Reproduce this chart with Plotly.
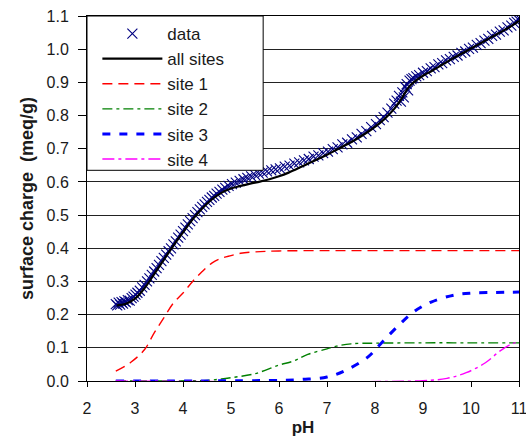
import plotly.graph_objects as go

# ---- data ----
data_ph = [2.60, 2.63, 2.66, 2.69, 2.72, 2.75, 2.78, 2.81, 2.85, 2.89, 2.93, 2.97,
           3.01, 3.05, 3.10, 3.15, 3.20, 3.25, 3.30, 3.35, 3.40, 3.45, 3.50, 3.55,
           3.60, 3.65, 3.70, 3.75, 3.80, 3.85, 3.90, 3.95, 4.00, 4.05, 4.10, 4.15,
           4.20, 4.25, 4.30, 4.35, 4.40, 4.45, 4.50, 4.55, 4.60, 4.65, 4.70, 4.76,
           4.82, 4.88, 4.95, 5.02, 5.10, 5.18, 5.26, 5.34, 5.42, 5.50, 5.58, 5.66,
           5.75, 5.84, 5.93, 6.02, 6.12, 6.22, 6.32, 6.42, 6.52, 6.62, 6.72, 6.82,
           6.92, 7.02, 7.12, 7.22, 7.32, 7.42, 7.52, 7.62, 7.72, 7.82, 7.92, 8.02,
           8.10, 8.18, 8.26, 8.34, 8.40, 8.45, 8.50, 8.54, 8.57, 8.60, 8.63, 8.66,
           8.69, 8.72, 8.76, 8.80, 8.86, 8.92, 9.00, 9.08, 9.16, 9.24, 9.32, 9.40,
           9.48, 9.56, 9.64, 9.72, 9.80, 9.88, 9.96, 10.04, 10.12, 10.20, 10.28,
           10.36, 10.44, 10.52, 10.60, 10.68, 10.76, 10.84, 10.90, 10.95, 10.98, 11.00]
data_q = [0.232, 0.228, 0.236, 0.230, 0.238, 0.233, 0.240, 0.237, 0.244, 0.242, 0.250, 0.254,
          0.260, 0.266, 0.272, 0.282, 0.290, 0.300, 0.309, 0.320, 0.330, 0.340, 0.350, 0.361,
          0.371, 0.381, 0.391, 0.400, 0.412, 0.421, 0.432, 0.441, 0.452, 0.462, 0.472, 0.482,
          0.491, 0.500, 0.509, 0.517, 0.525, 0.532, 0.540, 0.546, 0.553, 0.558, 0.565, 0.570,
          0.577, 0.582, 0.588, 0.593, 0.598, 0.603, 0.608, 0.612, 0.617, 0.621, 0.625, 0.628,
          0.632, 0.635, 0.638, 0.641, 0.646, 0.649, 0.655, 0.659, 0.665, 0.669, 0.676, 0.680,
          0.687, 0.691, 0.699, 0.704, 0.713, 0.718, 0.728, 0.734, 0.745, 0.753, 0.765, 0.774,
          0.786, 0.795, 0.809, 0.821, 0.836, 0.845, 0.859, 0.842, 0.870, 0.855, 0.886, 0.895,
          0.876, 0.905, 0.910, 0.913, 0.918, 0.922, 0.929, 0.934, 0.942, 0.946, 0.954, 0.958,
          0.966, 0.970, 0.977, 0.981, 0.989, 0.993, 1.001, 1.005, 1.013, 1.018, 1.026,
          1.031, 1.040, 1.044, 1.053, 1.057, 1.066, 1.071, 1.079, 1.083, 1.090, 1.094]

all_ph = [2.62, 2.8, 3.0, 3.2, 3.4, 3.6, 3.8, 4.0, 4.2, 4.4, 4.6, 4.8, 5.0, 5.2, 5.4, 5.6,
          5.8, 6.0, 6.2, 6.4, 6.6, 6.8, 7.0, 7.2, 7.4, 7.6, 7.8, 8.0, 8.2, 8.4, 8.55, 8.7,
          8.85, 9.0, 9.2, 9.4, 9.6, 9.8, 10.0, 10.2, 10.4, 10.6, 10.8, 11.0]
all_q = [0.228, 0.232, 0.248, 0.280, 0.322, 0.365, 0.408, 0.448, 0.487, 0.520, 0.547, 0.567,
         0.580, 0.588, 0.595, 0.601, 0.608, 0.617, 0.628, 0.641, 0.655, 0.668, 0.682, 0.697,
         0.712, 0.728, 0.746, 0.766, 0.790, 0.820, 0.850, 0.885, 0.905, 0.920, 0.936, 0.953,
         0.970, 0.986, 1.002, 1.018, 1.034, 1.050, 1.066, 1.085]

s1_ph = [2.6, 2.9, 3.2, 3.4, 3.6, 3.8, 4.0, 4.2, 4.4, 4.6, 4.8, 5.0, 5.2, 5.5, 6.0, 7.0, 8.0, 9.0, 10.0, 11.0]
s1_q = [0.030, 0.055, 0.095, 0.145, 0.190, 0.235, 0.265, 0.300, 0.330, 0.355, 0.370, 0.378,
        0.385, 0.389, 0.392, 0.393, 0.393, 0.393, 0.393, 0.393]

s2_ph = [2.6, 4.5, 4.8, 5.0, 5.5, 6.0, 6.3, 6.6, 7.0, 7.2, 7.5, 8.0, 9.0, 10.0, 11.0]
s2_q = [0.0, 0.002, 0.006, 0.010, 0.022, 0.048, 0.060, 0.080, 0.097, 0.105, 0.112, 0.114,
        0.115, 0.115, 0.115]

s3_ph = [2.6, 6.0, 6.5, 7.0, 7.4, 7.85, 8.13, 8.46, 8.8, 9.17, 9.65, 10.0, 10.5, 11.0]
s3_q = [0.0, 0.002, 0.005, 0.012, 0.033, 0.072, 0.114, 0.163, 0.208, 0.238, 0.259, 0.265,
        0.267, 0.268]

s4_ph = [2.6, 9.0, 9.5, 9.9, 10.3, 10.6, 10.85, 10.98]
s4_q = [0.0, 0.001, 0.008, 0.025, 0.055, 0.090, 0.112, 0.117]

x_ticks = [2, 3, 4, 5, 6, 7, 8, 9, 10, 11]
y_ticks = [0.0, 0.1, 0.2, 0.3, 0.4, 0.5, 0.6, 0.7, 0.8, 0.9, 1.0, 1.1]

# legend box extent (data coords)
legend_box = dict(x0=2, x1=5.67, y0=0.635, y1=1.1)

FONT = "Liberation Sans, Arial, sans-serif"

fig = go.Figure()
fig.add_trace(go.Scatter(x=data_ph, y=data_q, mode="markers", name="data",
                         marker=dict(symbol="x-thin", size=10, color="#000080",
                                     line=dict(color="#000080", width=1.1))))
fig.add_trace(go.Scatter(x=all_ph, y=all_q, mode="lines", name="all sites",
                         line=dict(color="black", width=2.2, shape="spline")))
fig.add_trace(go.Scatter(x=s1_ph, y=s1_q, mode="lines", name="site 1",
                         line=dict(color="#ff0000", width=1.4, dash="10px,6px", shape="spline")))
fig.add_trace(go.Scatter(x=s2_ph, y=s2_q, mode="lines", name="site 2",
                         line=dict(color="#008000", width=1.4, dash="10px,4px,3px,4px", shape="spline")))
fig.add_trace(go.Scatter(x=s3_ph, y=s3_q, mode="lines", name="site 3",
                         line=dict(color="#0000ff", width=3, dash="8px,9px", shape="spline")))
fig.add_trace(go.Scatter(x=s4_ph, y=s4_q, mode="lines", name="site 4",
                         line=dict(color="#ff00ff", width=1.4, dash="12px,4px,3px,4px", shape="spline")))

fig.add_shape(type="rect", xref="x", yref="y", layer="above",
              fillcolor="white", line=dict(color="black", width=1), **legend_box)

fig.update_layout(
    width=526, height=442,
    margin=dict(l=87, r=7, t=16, b=61, autoexpand=False),
    paper_bgcolor="white", plot_bgcolor="white",
    font=dict(family=FONT, size=16, color="#1a1a1a"),
    showlegend=True,
    legend=dict(x=0.024, y=1.0, xanchor="left", yanchor="top",
                bgcolor="rgba(0,0,0,0)", borderwidth=0,
                font=dict(family=FONT, size=17, color="#1a1a1a"),
                itemwidth=60, tracegroupgap=0),
    xaxis=dict(range=[2, 11], tickvals=x_ticks, ticks="outside", ticklen=5,
               tickcolor="black", showline=True, linecolor="black", linewidth=1,
               mirror=True, showgrid=False, zeroline=False, ticklabelstandoff=8,
               ticklabeloverflow="allow",
               title=dict(text="<b>pH</b>", font=dict(family=FONT, size=17, color="#1a1a1a"),
                          standoff=4)),
    yaxis=dict(range=[0, 1.1], tickvals=y_ticks, tickformat=".1f", ticks="outside",
               ticklen=8, tickcolor="black", showline=True, linecolor="black", linewidth=1,
               mirror=True, showgrid=True, gridcolor="#222222", gridwidth=1, zeroline=False,
               ticklabelstandoff=6, ticklabeloverflow="allow",
               title=dict(text="<b>surface charge  (meq/g)</b>",
                          font=dict(family=FONT, size=18, color="#1a1a1a"), standoff=8)),
)

fig.write_html("out.html", config={"displayModeBar": False},
               post_script="document.body.style.margin='0';document.body.style.overflow='hidden';")
